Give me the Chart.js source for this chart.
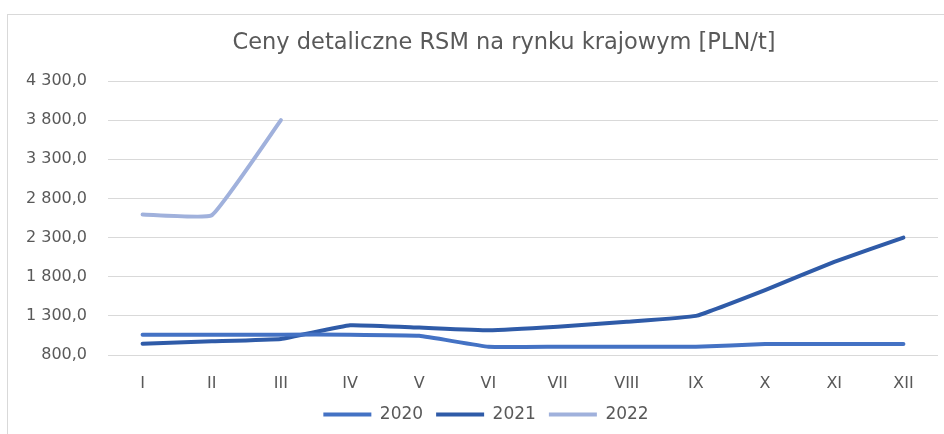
<!DOCTYPE html>
<html>
<head>
<meta charset="utf-8">
<script src="https://cdn.jsdelivr.net/npm/chart.js@4"></script>
<style>
  html, body { margin: 0; padding: 0; background: #fff; overflow: hidden; }
  #frame { position: absolute; left: 7px; top: 14px; width: 944px; height: 430px; border: 1px solid #d9d9d9; }
  #wrap { position: absolute; left: 0; top: 0; width: 944px; height: 434px; }
</style>
</head>
<body>
<div id="frame"></div>
<div id="wrap"><canvas id="myChart"></canvas></div>
<script>
const title = 'Ceny detaliczne RSM na rynku krajowym [PLN/t]';
const months = ['I', 'II', 'III', 'IV', 'V', 'VI', 'VII', 'VIII', 'IX', 'X', 'XI', 'XII'];
const y2020 = [1060, 1060, 1060, 1060, 1045, 905, 905, 905, 905, 940, 940, 940];
const y2021 = [945, 975, 1005, 1180, 1150, 1115, 1160, 1225, 1300, 1630, 1990, 2300];
const y2022 = [2595, 2585, 3800];
const yMin = 800, yMax = 4300, yStep = 500;

const fmt = v => {
  const s = Math.round(v).toString().replace(/\B(?=(\d{3})+(?!\d))/g, ' ');
  return s + ',0';
};

// title drawn by hand so it can sit over the plot like in the original
const titlePlugin = {
  id: 'topTitle',
  afterLayout(chart) {
    // nudge the legend a bit to the right
    chart.legend.left += 17;
    chart.legend.right += 17;
  },
  afterDraw(chart) {
    const c = chart.ctx;
    c.save();
    c.font = '22.5px "DejaVu Sans"';
    c.fillStyle = '#595959';
    c.textAlign = 'center';
    c.textBaseline = 'alphabetic';
    c.fillText(title, 504, 49);
    c.restore();
  }
};

document.addEventListener('DOMContentLoaded', () => {
  const ctx = document.getElementById('myChart');
  const line = (label, data, color) => ({
    label,
    data,
    borderColor: color,
    backgroundColor: color,
    borderWidth: 4,
    borderCapStyle: 'round',
    borderJoinStyle: 'round',
    tension: 0.1,
    pointRadius: 0,
    pointHoverRadius: 0,
    fill: false
  });
  window.chart = new Chart(ctx, {
    type: 'line',
    data: {
      labels: months,
      datasets: [
        line('2020', y2020, '#4472C4'),
        line('2021', y2021, '#2F5BA8'),
        line('2022', y2022, '#A0B1DC')
      ]
    },
    plugins: [titlePlugin],
    options: {
      responsive: true,
      maintainAspectRatio: false,
      animation: false,
      layout: { padding: { top: 81, right: 6, bottom: 1, left: 0 } },
      plugins: {
        title: { display: false },
        tooltip: { enabled: false },
        legend: {
          position: 'bottom',
          labels: {
            usePointStyle: true,
            pointStyle: 'line',
            pointStyleWidth: 48,
            padding: 13,
            color: '#595959',
            font: { family: 'DejaVu Sans', size: 17 }
          }
        }
      },
      scales: {
        x: {
          offset: true,
          grid: { display: false },
          border: { display: false },
          afterFit: s => { s.height = 38; },
          ticks: {
            color: '#595959',
            padding: 11,
            font: { family: 'DejaVu Sans', size: 16 }
          }
        },
        y: {
          min: yMin,
          max: yMax,
          afterFit: s => { s.width = 108; },
          grid: { color: '#d9d9d9', lineWidth: 1, drawTicks: false },
          border: { display: false },
          ticks: {
            stepSize: yStep,
            color: '#595959',
            padding: 21,
            font: { family: 'DejaVu Sans', size: 16 },
            callback: v => fmt(v)
          }
        }
      }
    }
  });
});
</script>
</body>
</html>
